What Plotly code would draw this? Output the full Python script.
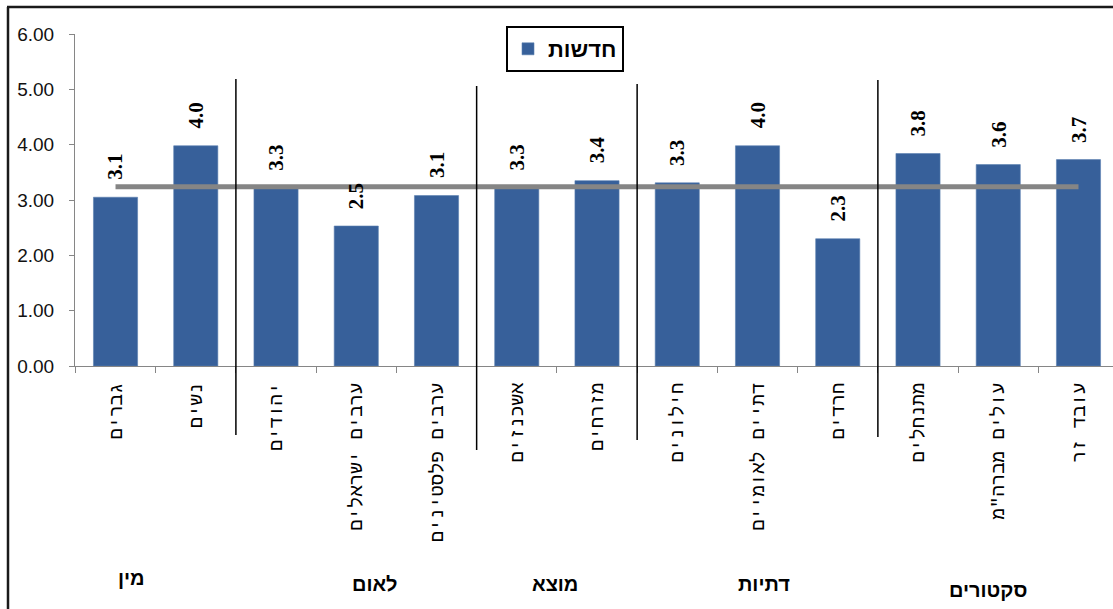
import plotly.graph_objects as go

# ---- data ----
categories = ["גברים", "נשים", "יהודים", "ערבים ישראלים", "ערבים פלסטינים",
              "אשכנזים", "מזרחים", "חילונים", "דתיים לאומיים", "חרדים",
              "מתנחלים", "עולים מברה\"מ", "עובד זר"]
values = [3.05, 3.98, 3.22, 2.53, 3.08, 3.22, 3.35, 3.31, 3.98, 2.30, 3.84, 3.64, 3.73]
value_labels = ["3.1", "4.0", "3.3", "2.5", "3.1", "3.3", "3.4", "3.3", "4.0", "2.3", "3.8", "3.6", "3.7"]
mean_value = 3.24
groups = ["מין", "לאום", "מוצא", "דתיות", "סקטורים"]
group_sizes = [2, 3, 2, 3, 3]
series_name = "חדשות"
y_ticks = [0, 1, 2, 3, 4, 5, 6]

# ---- layout geometry (pixels) ----
W, H = 1113, 609
ML, MR, MT, MB = 75, 0, 34, 243
PW = W - ML - MR
PH = H - MT - MB


def px_x(px):
    return (px - ML) / PW


def px_y(py):
    return (H - MB - py) / PH


BAR_COLOR = "#37609A"
AXIS_COLOR = "#868686"

fig = go.Figure()
fig.add_trace(go.Bar(
    x=categories, y=values, name=series_name,
    marker=dict(color=BAR_COLOR, line=dict(color="#5B7FB0", width=0.6)),
    width=0.55, showlegend=True,
))
fig.add_trace(go.Scatter(
    x=categories, y=[mean_value] * len(categories), mode="lines",
    line=dict(color="#858585", width=5), showlegend=False, hoverinfo="skip",
))

annotations = []
for c, v, t in zip(categories, values, value_labels):
    annotations.append(dict(
        x=c, y=v, xref="x", yref="y", text="<b>" + t + "</b>", showarrow=False,
        textangle=-90, yanchor="bottom", xanchor="center", yshift=15,
        font=dict(family="Liberation Serif", size=21, color="black"),
    ))

# group labels (pixel positions)
group_label_pos = [(131, 578), (375, 584), (555, 584), (764, 584), (988, 590)]
for g, (gx, gy) in zip(groups, group_label_pos):
    annotations.append(dict(
        x=px_x(gx), y=px_y(gy), xref="paper", yref="paper", text="<b>" + g + "</b>",
        showarrow=False, xanchor="center", yanchor="middle",
        font=dict(family="Liberation Sans", size=20, color="black"),
    ))

shapes = []
# group separators
sep_tops = [79, 86, 84, 80]
sep_bottoms = [435, 450, 440, 437]
pos = -0.5
for i, n in enumerate(group_sizes[:-1]):
    pos += n
    shapes.append(dict(
        type="line", xref="x", yref="paper", x0=pos, x1=pos,
        y0=px_y(sep_bottoms[i]), y1=px_y(sep_tops[i]),
        line=dict(color="black", width=1.5),
    ))
# outer chart border (top and left edges; the rest lies outside the picture)
shapes.append(dict(
    type="line", xref="paper", yref="paper",
    x0=px_x(7), x1=px_x(1113), y0=px_y(7), y1=px_y(7),
    line=dict(color="#1a1a1a", width=2.5), layer="above",
))
shapes.append(dict(
    type="line", xref="paper", yref="paper",
    x0=px_x(8), x1=px_x(8), y0=px_y(7), y1=px_y(609),
    line=dict(color="#1a1a1a", width=2.5), layer="above",
))

fig.update_layout(
    width=W, height=H,
    margin=dict(l=ML, r=MR, t=MT, b=MB, autoexpand=False),
    paper_bgcolor="white", plot_bgcolor="white",
    bargap=0.45,
    xaxis=dict(
        type="category", range=[-0.505, 12.43],
        showline=True, linecolor=AXIS_COLOR, linewidth=1,
        ticks="outside", tickson="boundaries", ticklen=6, tickcolor=AXIS_COLOR,
        tickangle=-90, ticklabelstandoff=8,
        tickfont=dict(family="Liberation Mono", size=19, color="black"),
        showgrid=False, zeroline=False, fixedrange=True,
    ),
    yaxis=dict(
        range=[0, 6], tickvals=y_ticks, tickformat=".2f",
        showline=True, linecolor=AXIS_COLOR, linewidth=1,
        ticks="outside", ticklen=5, tickcolor=AXIS_COLOR, ticklabelstandoff=11,
        tickfont=dict(family="Liberation Sans", size=19, color="#111111"),
        showgrid=False, zeroline=False,
    ),
    legend=dict(
        x=px_x(506), y=px_y(26), xanchor="left", yanchor="top",
        bgcolor="white", bordercolor="black", borderwidth=2,
        font=dict(family="Liberation Sans", size=22, color="black", weight="bold"),
    ),
    annotations=annotations,
    shapes=shapes,
)

fig.write_html("out.html", config={"displayModeBar": False},
               post_script="document.body.style.margin='0';")
